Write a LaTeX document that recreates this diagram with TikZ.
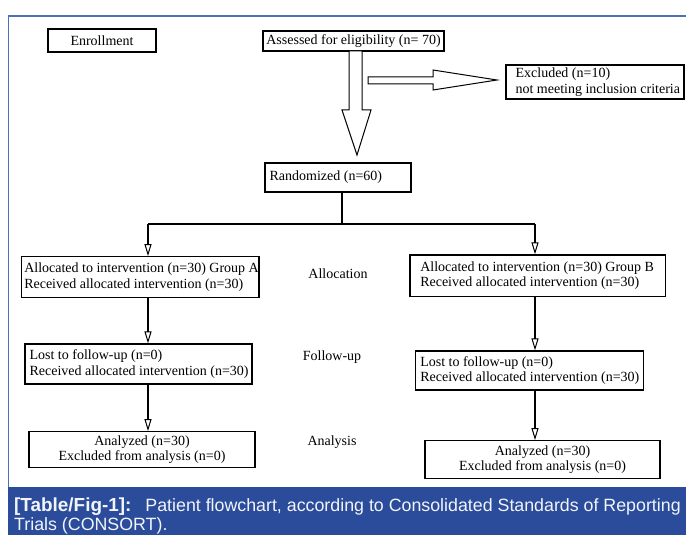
\documentclass[tikz,border=0pt]{standalone}
\usepackage{fontspec}
\setmainfont{Liberation Serif}
\newfontfamily\capfont{Liberation Sans}
\usetikzlibrary{arrows.meta}
\definecolor{capblue}{RGB}{42,76,155}
\definecolor{frameblue}{RGB}{78,112,184}
\tikzset{
  boxline/.style={draw, line width=1.2pt, inner sep=0pt, font=\fontsize{14}{15.5}\selectfont, align=center},
  boxtext/.style={font=\fontsize{14}{15.5}\selectfont, inner sep=0pt, align=left, anchor=west},
  stagelabel/.style={font=\fontsize{14}{15.5}\selectfont, inner sep=0pt},
  flowline/.style={line width=1.1pt},
  flowarrow/.style={line width=1.1pt, -{Triangle[open, length=12pt, width=7pt, line width=1pt]}},
  hollow/.style={draw, line width=1pt, fill=white, line join=miter},
  captext/.style={text=white!94!capblue, inner sep=0pt, anchor=base west, font=\capfont\fontsize{17.8}{20}\selectfont},
}
\begin{document}
\begin{tikzpicture}[x=1pt,y=-1pt]
\useasboundingbox (0,0) rectangle (686,535);
\fill[white] (0,0) rectangle (686,535);
% frame and caption band
\draw[frameblue, line width=1.5pt] (8.5,487) -- (8.5,16) -- (686,16);
\fill[capblue] (8,487) rectangle (686,535);
\node[captext] (cap1) at (14,511) {{\fontsize{18.9}{20}\selectfont\bfseries [Table/Fig-1]:}\hspace{14pt}Patient flowchart, according to Consolidated Standards of Reporting};
\node[captext] (cap2) at (14,530) {Trials (CONSORT).};

% boxes
\node[boxline, minimum width=108, minimum height=23] (enroll) at (102,40.5) {Enrollment};
\node[boxline, minimum width=181, minimum height=20] (assess) at (353.5,41) {Assessed for eligibility (n= 70)};

\node[boxline, minimum width=178, minimum height=34] (excl) at (595,82) {};
\node[boxtext] (excltext) at ([xshift=10]excl.west) {Excluded (n=10)\\not meeting inclusion criteria};

\node[boxline, minimum width=146, minimum height=29] (rand) at (338,177.5) {};
\node[boxtext] (randtext) at ([xshift=5]rand.west) {Randomized (n=60)};

\node[boxline, minimum width=237.3, minimum height=40.6] (allocA) at (140.3,277) {};
\node[boxtext] (allocAtext) at ([xshift=3]allocA.west) {Allocated to intervention (n=30) Group A\\Received allocated intervention (n=30)};

\node[boxline, minimum width=255.7, minimum height=41.7] (allocB) at (537.8,275.8) {};
\node[boxtext] (allocBtext) at ([xshift=10.7]allocB.west) {Allocated to intervention (n=30) Group B\\Received allocated intervention (n=30)};

\node[boxline, minimum width=227, minimum height=40] (fuA) at (138.5,364) {};
\node[boxtext] (fuAtext) at ([xshift=5]fuA.west) {Lost to follow-up (n=0)\\Received allocated intervention (n=30)};

\node[boxline, minimum width=227.6, minimum height=39] (fuB) at (529.5,370.5) {};
\node[boxtext] (fuBtext) at ([xshift=5]fuB.west) {Lost to follow-up (n=0)\\Received allocated intervention (n=30)};

\node[boxline, minimum width=226, minimum height=35.6] (anA) at (142,449.5) {Analyzed (n=30)\\Excluded from analysis (n=0)};
\node[boxline, minimum width=235, minimum height=37.6] (anB) at (542.5,459.5) {Analyzed (n=30)\\Excluded from analysis (n=0)};

% stage labels
\node[stagelabel] (lalloc) at (338,274) {Allocation};
\node[stagelabel] (lfollow) at (332,357) {Follow-up};
\node[stagelabel] (lanalysis) at (332,442) {Analysis};

% hollow block arrows
\draw[hollow] (349,51) -- (349,110) -- (342,110) -- (357,155) -- (371,110) -- (362,110) -- (362,51) -- cycle;
\draw[hollow] (368,77) -- (433,77) -- (433,70) -- (497,80) -- (433,90) -- (433,84) -- (368,84) -- cycle;

% connectors
\coordinate (split) at (342,224);
\coordinate (brA) at (148,224);
\coordinate (brB) at (535,224);
\draw[flowline] (rand.south -| split) -- (split);
\draw[flowline] (brA) -- (brB);
\draw[flowarrow] (brA) -- (brA |- allocA.north);
\draw[flowarrow] (brB) -- (brB |- allocB.north);
\draw[flowarrow] (allocA.south -| brA) -- (fuA.north -| brA);
\draw[flowarrow] (fuA.south -| brA) -- (anA.north -| brA);
\draw[flowarrow] (allocB.south -| brB) -- (fuB.north -| brB);
\draw[flowarrow] (fuB.south -| brB) -- (anB.north -| brB);
\end{tikzpicture}
\end{document}
